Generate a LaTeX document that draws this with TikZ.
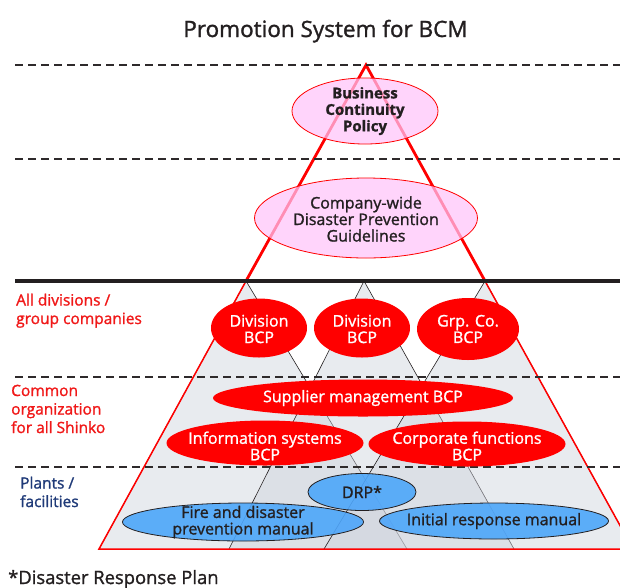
\documentclass[tikz,border=0pt]{standalone}
\usepackage{fontspec}
\setmainfont{Open Sans}[FakeBold=1.3]
\usetikzlibrary{shapes.geometric}
\definecolor{bred}{HTML}{FF0000}
\definecolor{lblred}{HTML}{F01818}
\definecolor{pinkf}{HTML}{FFC4FA}
\definecolor{grayf}{HTML}{CDD2DB}
\definecolor{bluef}{HTML}{4DA6FA}
\definecolor{navy}{HTML}{1F3A78}
\definecolor{txt}{HTML}{231F20}
\begin{document}
\begin{tikzpicture}[x=1pt,y=-1pt,
  ell/.style={ellipse, inner sep=0pt, outer sep=0pt},
  pinkell/.style={ell, draw=bred, line width=0.8pt, fill=pinkf, fill opacity=0.72},
  redell/.style={ell, fill=bred},
  blueell/.style={ell, draw=txt, line width=0.8pt, fill=bluef, fill opacity=0.9},
  lbl/.style={align=center, inner sep=0pt, font=\fontsize{16}{16.5}\selectfont},
  wlbl/.style={lbl, text=white},
  side/.style={align=left, inner sep=0pt, anchor=base west, font=\fontsize{15.5}{18.5}\selectfont},
  dashlin/.style={draw=txt!95, line width=1.6pt, dash pattern=on 8pt off 5pt},
  tri/.style={fill=grayf, fill opacity=0.45},
  triline/.style={draw=txt, line width=0.6pt},
]
\useasboundingbox (0,0) rectangle (620,587);
\clip (0,0) rectangle (620,587);

% coordinates
\coordinate (apex) at (366,65);
\coordinate (A1) at (246,281);
\coordinate (A2) at (364,281);
\coordinate (A3) at (485,281);
\coordinate (BL) at (99,549);
\coordinate (BR) at (633,549);
\coordinate (B1r) at (407,549);
\coordinate (B2l) at (229,549);
\coordinate (B2r) at (514,549);
\coordinate (B3l) at (324,549);

% small triangles
\fill[tri] (A1) -- (BL) -- (B1r) -- cycle;
\draw[triline] (BL) -- (A1) -- (B1r);
\fill[tri] (A2) -- (B2l) -- (B2r) -- cycle;
\draw[triline] (B2l) -- (A2) -- (B2r);
\fill[tri] (A3) -- (B3l) -- (BR) -- cycle;
\draw[triline] (B3l) -- (A3) -- (BR);

% red triangle
\draw[bred, line width=1.5pt, line join=miter] (A1) -- (BL) -- (BR) -- (A3);
\draw[bred, line width=2.8pt, line join=miter] (A1) -- (apex) -- (A3);

% dashed and solid lines
\coordinate (d1l) at (15,65);  \coordinate (d1r) at (620,65);
\coordinate (d2l) at (15,159); \coordinate (d2r) at (620,159);
\coordinate (d3l) at (15,377); \coordinate (d3r) at (620,377);
\coordinate (d4l) at (15,467); \coordinate (d4r) at (620,467);
\coordinate (sl) at (15,281);  \coordinate (sr) at (620,281);
\draw[dashlin] (d1l) -- (d1r);
\draw[dashlin] (d2l) -- (d2r);
\draw[dashlin] (d3l) -- (d3r);
\draw[dashlin] (d4l) -- (d4r);
\draw[txt, line width=3.2pt] (sl) -- (sr);

% ellipses
\node[pinkell, minimum width=146pt, minimum height=66pt] (bcp) at (365,111) {};
\node[pinkell, minimum width=223pt, minimum height=80pt] (cw) at (366,218) {};
\node[redell, minimum width=96pt, minimum height=59pt] (div1) at (259,328) {};
\node[redell, minimum width=96pt, minimum height=59pt] (div2) at (362,328) {};
\node[redell, minimum width=102pt, minimum height=62pt] (grp) at (468,329) {};
\node[redell, minimum width=300pt, minimum height=37pt] (sup) at (363,398) {};
\node[redell, minimum width=197pt, minimum height=45pt] (info) at (265,443) {};
\node[redell, minimum width=197pt, minimum height=45pt] (corp) at (467,444) {};
\node[blueell, minimum width=108pt, minimum height=37pt] (drp) at (362,492) {};
\node[blueell, minimum width=241pt, minimum height=38pt] (fire) at (243,522) {};
\node[blueell, minimum width=229pt, minimum height=36pt] (init) at (494,521) {};

% texts
\node[anchor=base, inner sep=0pt, text=txt, font=\fontsize{22.5}{24}\selectfont] (title) at (325.5,37) {Promotion System for BCM};
\node[lbl, text=txt, font=\bfseries\fontsize{15}{16.5}\selectfont] (bcpt) at (365,111) {Business\\Continuity\\Policy};
\node[lbl, text=txt] (cwt) at (366,219) {Company-wide\\Disaster Prevention\\Guidelines};
\node[wlbl] (div1t) at (259,329) {Division\\BCP};
\node[wlbl] (div2t) at (362,329) {Division\\BCP};
\node[wlbl] (grpt) at (468,329) {Grp. Co.\\BCP};
\node[wlbl] (supt) at (363,398) {Supplier management BCP};
\node[wlbl] (infot) at (265,446) {Information systems\\BCP};
\node[wlbl] (corpt) at (467,446) {Corporate functions\\BCP};
\node[lbl, text=txt] (drpt) at (362,492) {DRP*};
\node[lbl, text=txt] (firet) at (243,522) {Fire and disaster\\prevention manual};
\node[lbl, text=txt] (initt) at (494,521) {Initial response manual};

\node[side, text=lblred] (s1) at (16,324) {All divisions /\\group companies};
\node[side, text=lblred] (s2) at (11,433) {Common\\organization\\for all Shinko};
\node[side, text=navy] (s3) at (20,507) {Plants /\\facilities};
\node[anchor=base west, inner sep=0pt, text=txt, font=\fontsize{18.4}{20}\selectfont] (foot) at (8,584) {*Disaster Response Plan};
\end{tikzpicture}
\end{document}
